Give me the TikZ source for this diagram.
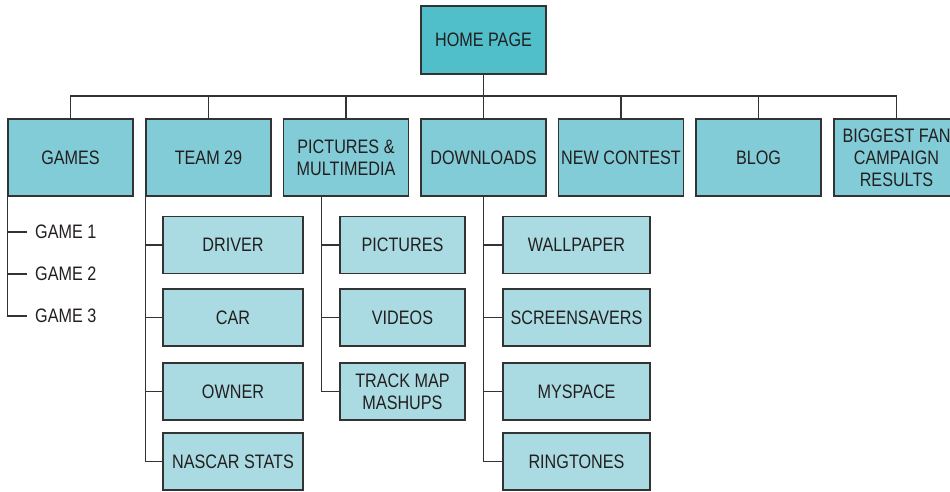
\documentclass[tikz,border=0pt]{standalone}
\usepackage{fontspec}
\setmainfont[FakeStretch=0.83]{Liberation Sans}
\definecolor{hometeal}{HTML}{50BFCA}
\definecolor{mainteal}{HTML}{82CCD7}
\definecolor{subteal}{HTML}{AADBE2}
\definecolor{linegray}{HTML}{333333}
\definecolor{textgray}{HTML}{231F20}

\begin{document}
\begin{tikzpicture}[x=1pt,y=-1pt,
	box/.style={draw=linegray,line width=1.4pt,inner sep=2pt,align=center,text=textgray,font=\fontsize{19.5}{22}\selectfont},
	top/.style={box,fill=hometeal,minimum width=125pt,minimum height=68pt},
	main/.style={box,fill=mainteal,minimum width=125pt,minimum height=77pt},
	sub/.style={box,fill=subteal,minimum height=57pt},
	item/.style={anchor=west,inner xsep=8pt,inner ysep=2pt,text=textgray,font=\fontsize{19.5}{22}\selectfont},
	link/.style={draw=linegray,line width=1.2pt}]
	\clip (0,0) rectangle (950,491);
	% top level
	\node[top] (home) at (483.5,40) {HOME PAGE};
	\node[main] (games) at (70.5,157.5) {GAMES};
	\node[main] (team) at (208.5,157.5) {TEAM 29};
	\node[main] (pics) at (346,157.5) {PICTURES \&\\MULTIMEDIA};
	\node[main] (down) at (483.5,157.5) {DOWNLOADS};
	\node[main] (contest) at (621,157.5) {NEW CONTEST};
	\node[main] (blog) at (758.5,157.5) {BLOG};
	\node[main] (fan) at (896.5,157.5) {BIGGEST FAN\\CAMPAIGN\\RESULTS};
	% games
	\node[item] (game1) at (27,232) {GAME 1};
	\node[item] (game2) at (27,274) {GAME 2};
	\node[item] (game3) at (27,316) {GAME 3};
	% team 29
	\node[sub,minimum width=140pt] (driver) at (233,245) {DRIVER};
	\node[sub,minimum width=140pt] (car) at (233,317.5) {CAR};
	\node[sub,minimum width=140pt] (owner) at (233,391.5) {OWNER};
	\node[sub,minimum width=140pt] (stats) at (233,461.5) {NASCAR STATS};
	% pictures & multimedia
	\node[sub,minimum width=125pt] (pictures) at (402.5,245) {PICTURES};
	\node[sub,minimum width=125pt] (videos) at (402.5,317.5) {VIDEOS};
	\node[sub,minimum width=125pt] (track) at (402.5,391.5) {TRACK MAP\\MASHUPS};
	% downloads
	\node[sub,minimum width=147pt] (wallpaper) at (576.5,245) {WALLPAPER};
	\node[sub,minimum width=147pt] (screensavers) at (576.5,317.5) {SCREENSAVERS};
	\node[sub,minimum width=147pt] (myspace) at (576.5,391.5) {MYSPACE};
	\node[sub,minimum width=147pt] (ringtones) at (576.5,461.5) {RINGTONES};

	% connectors
	\coordinate (bus) at (483.5,96);
	\draw[link] (home) -- (down);
	\foreach \n in {games,team,pics,contest,blog,fan}
		\draw[link] (\n.north) |- (bus);
	\draw[link] (games.south west) |- (game3.west);
	\draw[link] (games.south west |- game1.west) -- (game1.west);
	\draw[link] (games.south west |- game2.west) -- (game2.west);
	\draw[link] (team.south west) |- (stats.west);
	\foreach \n in {driver,car,owner}
		\draw[link] (team.south west |- \n.west) -- (\n.west);
	\coordinate (picsdrop) at ([xshift=39pt]pics.south west);
	\draw[link] (picsdrop) |- (track.west);
	\foreach \n in {pictures,videos}
		\draw[link] (picsdrop |- \n.west) -- (\n.west);
	\draw[link] (down.south) |- (ringtones.west);
	\foreach \n in {wallpaper,screensavers,myspace}
		\draw[link] (down.south |- \n.west) -- (\n.west);
\end{tikzpicture}
\end{document}
